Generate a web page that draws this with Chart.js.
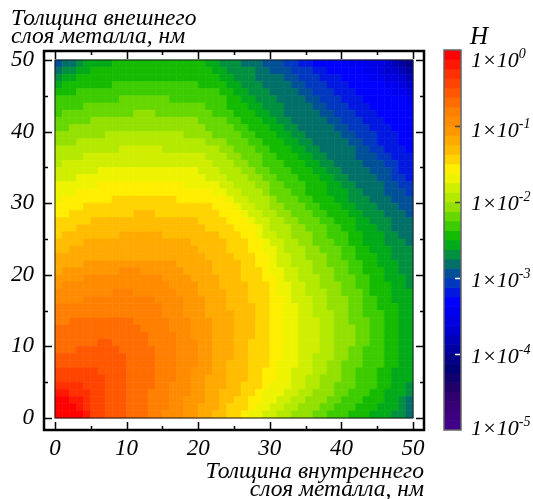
<!DOCTYPE html>
<html>
<head>
<meta charset="utf-8">
<style>
  html, body { margin:0; padding:0; background:#fff; }
  #wrap { position:relative; width:533px; height:499px; overflow:hidden; }
  #wrap div { position:absolute; top:0; height:499px; }
</style>
<script src="https://cdn.jsdelivr.net/npm/chart.js@4"></script>
</head>
<body>
<div id="wrap">
  <div style="left:0;width:430px"><canvas id="mapChart"></canvas></div>
  <div style="left:430px;width:103px"><canvas id="barChart"></canvas></div>
</div>
<script>
// Axis
const axisTicks = [0, 10, 20, 30, 40, 50]
const axisMinorTicks = [5, 15, 25, 35, 45]
const xTitle = ['Толщина внутреннего', 'слоя металла, нм']
const yTitle = ['Толщина внешнего', 'слоя металла, нм']

// Colour scale: band 0 is the top of the bar, 8 bands per decade of H
const bandColors = [
  '#ff0000','#ff1800','#ff3000','#ff4400','#ff5800','#ff6c00','#ff8000','#ff8c00',
  '#ff9800','#ffaa00','#ffbc00','#ffd400','#ffee00','#eef400','#d0ee00','#b4ea00',
  '#94e000','#66d800','#3ccc00','#14bb00','#00aa18','#009040','#007068','#005098',
  '#0038c0','#0018e0','#0000ff','#0000f0','#0000e0','#0000d0','#0000b8','#0000a0',
  '#000088','#000078','#100070','#200068','#300070','#380078','#3c0080','#400088'
]
const bandEdges = [
  0,-0.125,-0.25,-0.375,-0.5,-0.625,-0.75,-0.875,-1,-1.125,-1.25,-1.375,-1.5,-1.625,
  -1.75,-1.875,-2,-2.125,-2.25,-2.375,-2.5,-2.625,-2.75,-2.875,-3,-3.125,-3.25,-3.375,
  -3.5,-3.625,-3.75,-3.875,-4,-4.125,-4.25,-4.375,-4.5,-4.625,-4.75,-4.875,-5
]
const barExponents = [0, -1, -2, -3, -4, -5]
const barTickColors = ['#444', '#444', '#444', '#fff', '#fff']
const barLabelDrop = [16.5, 10.5, 8, 9, 9, 5]

// Cell centres, nm
const xCells = [0.5,1.5,2.5,3.5,4.5,5.5,6.5,7.5,8.5,9.5,10.5,11.5,12.5,13.5,14.5,15.5,16.5,17.5,18.5,19.5,20.5,21.5,22.5,23.5,24.5,25.5,26.5,27.5,28.5,29.5,30.5,31.5,32.5,33.5,34.5,35.5,36.5,37.5,38.5,39.5,40.5,41.5,42.5,43.5,44.5,45.5,46.5,47.5,48.5,49.5]
const yCells = [49.5,48.5,47.5,46.5,45.5,44.5,43.5,42.5,41.5,40.5,39.5,38.5,37.5,36.5,35.5,34.5,33.5,32.5,31.5,30.5,29.5,28.5,27.5,26.5,25.5,24.5,23.5,22.5,21.5,20.5,19.5,18.5,17.5,16.5,15.5,14.5,13.5,12.5,11.5,10.5,9.5,8.5,7.5,6.5,5.5,4.5,3.5,2.5,1.5,0.5]

// H band for each cell, top row first
const hBands = [
  [23,22,22,21,20,20,20,20,19,19,19,19,19,19,19,19,19,19,19,19,19,20,20,21,21,21,22,22,22,23,23,23,24,24,25,25,26,26,26,26,26,27,27,27,28,28,29,30,31,32],
  [22,21,21,20,20,19,19,19,19,19,19,19,19,19,19,19,19,19,19,19,19,19,20,20,21,21,21,21,22,22,23,23,23,24,24,24,25,25,26,26,26,26,26,27,27,28,29,29,30,31],
  [21,20,20,19,19,19,19,19,19,19,19,19,19,19,19,19,19,19,19,19,19,19,19,20,20,21,21,21,22,22,22,22,23,23,24,24,24,25,25,25,26,26,26,26,27,27,28,28,29,30],
  [20,19,19,19,19,19,19,19,18,18,18,18,18,18,18,18,18,18,18,18,19,19,19,19,20,20,21,21,21,22,22,22,22,23,23,24,24,24,25,25,25,26,26,26,26,26,27,27,28,29],
  [19,19,19,18,18,18,18,18,18,18,18,18,18,18,18,18,18,18,18,18,18,18,18,19,19,20,20,21,21,21,22,22,22,22,23,23,24,24,24,25,25,25,26,26,26,26,26,27,27,28],
  [18,18,18,18,18,18,18,18,18,17,17,17,17,17,17,17,18,18,18,18,18,18,18,18,19,19,20,20,21,21,21,22,22,22,22,23,23,24,24,24,25,25,25,26,26,26,26,26,26,27],
  [18,18,18,18,17,17,17,17,17,17,17,17,17,17,17,17,17,17,17,17,17,18,18,18,19,19,19,20,20,21,21,21,22,22,22,22,23,23,24,24,24,25,25,25,26,26,26,26,26,26],
  [18,17,17,17,17,17,17,17,17,17,17,16,16,16,17,17,17,17,17,17,17,17,18,18,18,19,19,19,20,20,21,21,22,22,22,22,22,23,23,24,24,24,25,25,25,26,26,26,26,26],
  [17,17,17,17,17,16,16,16,16,16,16,16,16,16,16,16,16,16,16,16,17,17,17,17,18,18,19,19,19,20,20,21,21,22,22,22,22,22,23,23,24,24,24,25,25,25,26,26,26,26],
  [17,17,16,16,16,16,16,16,16,16,16,16,16,16,16,16,16,16,16,16,16,17,17,17,17,18,18,19,19,19,20,20,21,21,22,22,22,22,22,23,23,24,24,24,25,25,25,26,26,26],
  [16,16,16,16,16,16,16,15,15,15,15,15,15,15,15,15,15,15,16,16,16,16,17,17,17,17,18,18,19,19,19,20,20,21,21,22,22,22,22,22,23,23,24,24,24,25,25,25,26,26],
  [16,16,16,15,15,15,15,15,15,15,15,15,15,15,15,15,15,15,15,15,15,16,16,16,17,17,17,18,18,19,19,19,20,20,21,21,22,22,22,22,22,23,23,24,24,25,25,25,26,26],
  [15,15,15,15,15,15,15,15,15,14,14,14,14,14,14,15,15,15,15,15,15,15,15,16,16,17,17,17,18,18,19,19,19,20,20,21,21,22,22,22,22,22,23,23,24,24,25,25,25,26],
  [15,15,15,15,14,14,14,14,14,14,14,14,14,14,14,14,14,14,14,14,14,15,15,15,16,16,17,17,17,18,18,19,19,19,20,20,21,21,22,22,22,22,23,23,23,24,24,25,25,25],
  [15,14,14,14,14,14,14,14,14,14,14,14,14,14,14,14,14,14,14,14,14,14,15,15,15,16,16,17,17,18,18,18,19,19,19,20,20,21,21,22,22,22,22,23,23,23,24,24,25,25],
  [14,14,14,14,14,14,13,13,13,13,13,13,13,13,13,13,13,13,13,13,14,14,14,15,15,15,16,16,17,17,18,18,18,19,19,19,20,20,21,21,22,22,22,22,23,23,23,24,25,25],
  [14,14,14,13,13,13,13,13,13,13,13,13,13,13,13,13,13,13,13,13,13,14,14,14,15,15,15,16,16,17,17,18,18,18,19,19,19,20,20,21,21,22,22,22,22,23,23,24,24,25],
  [13,13,13,13,13,13,12,12,12,12,12,12,12,12,12,12,12,12,13,13,13,13,13,14,14,15,15,15,16,16,17,17,18,18,18,19,19,19,20,20,21,21,22,22,22,22,23,23,24,24],
  [13,13,13,12,12,12,12,12,12,12,12,12,12,12,12,12,12,12,12,12,12,12,13,13,14,14,15,15,15,16,17,17,17,18,18,19,19,19,20,20,20,21,21,22,22,22,23,23,23,24],
  [13,12,12,12,12,12,12,12,11,11,11,11,11,11,11,11,11,12,12,12,12,12,12,12,13,14,14,15,15,15,16,17,17,17,18,18,19,19,19,20,20,21,21,21,22,22,22,23,23,23],
  [12,12,12,12,11,11,11,11,11,11,11,11,11,11,11,11,11,11,11,11,11,11,12,12,12,13,14,14,15,15,16,16,17,17,17,18,18,19,19,19,20,20,21,21,21,22,22,22,23,23],
  [12,12,11,11,11,11,11,11,11,11,11,10,10,10,11,11,11,11,11,11,11,11,11,12,12,12,13,14,14,15,15,16,16,17,17,17,18,18,19,19,19,20,20,21,21,21,22,22,22,23],
  [11,11,11,11,11,10,10,10,10,10,10,10,10,10,10,10,10,10,10,10,11,11,11,11,12,12,12,13,14,14,15,15,16,16,17,17,17,18,18,19,19,19,20,20,21,21,21,22,22,22],
  [11,11,11,10,10,10,10,10,10,10,10,10,10,10,10,10,10,10,10,10,10,11,11,11,11,12,12,12,13,14,15,15,15,16,16,17,17,17,18,18,19,19,20,20,20,21,21,22,22,22],
  [11,10,10,10,10,10,10,10,10,9,9,9,9,9,9,10,10,10,10,10,10,10,10,11,11,11,12,12,13,14,14,15,15,16,16,16,17,17,18,18,18,19,19,20,20,20,21,21,22,22],
  [10,10,10,10,9,9,9,9,9,9,9,9,9,9,9,9,9,9,9,10,10,10,10,10,11,11,11,12,12,13,14,14,15,15,16,16,17,17,17,18,18,19,19,20,20,20,21,21,21,22],
  [10,10,9,9,9,9,9,9,9,9,9,9,9,9,9,9,9,9,9,9,10,10,10,10,11,11,11,12,12,13,13,14,15,15,15,16,16,17,17,17,18,18,19,19,20,20,20,21,21,21],
  [9,9,9,9,9,9,9,9,9,9,9,9,9,9,9,9,9,9,9,9,9,10,10,10,10,11,11,11,12,12,13,14,14,15,15,16,16,16,17,17,18,18,19,19,19,20,20,21,21,21],
  [9,9,9,9,8,8,8,8,8,8,8,8,8,8,8,8,8,9,9,9,9,9,10,10,10,10,11,11,12,12,13,14,14,15,15,15,16,16,17,17,17,18,18,19,19,20,20,20,21,21],
  [9,8,8,8,8,8,8,8,8,7,7,7,8,8,8,8,8,8,9,9,9,9,10,10,10,10,11,11,11,12,13,13,14,14,15,15,16,16,16,17,17,18,18,19,19,19,20,20,21,21],
  [8,8,8,8,7,7,7,7,7,7,7,7,7,7,7,8,8,8,8,9,9,9,9,10,10,10,11,11,11,12,12,13,14,14,15,15,15,16,16,17,17,17,18,18,19,19,20,20,20,21],
  [8,7,7,7,7,7,7,7,7,7,7,7,7,7,7,7,8,8,8,8,9,9,9,10,10,10,10,11,11,11,12,13,13,14,14,15,15,16,16,16,17,17,18,18,19,19,19,20,20,21],
  [7,7,7,7,7,7,7,7,6,6,6,7,7,7,7,7,7,8,8,8,9,9,9,9,10,10,10,11,11,11,12,13,13,14,14,15,15,15,16,16,17,17,17,18,19,19,19,20,20,20],
  [7,7,7,7,6,6,6,6,6,6,6,6,6,6,7,7,7,7,8,8,8,9,9,9,10,10,10,11,11,11,12,12,13,14,14,14,15,15,16,16,16,17,17,18,18,19,19,20,20,20],
  [6,6,6,6,6,6,6,6,6,6,6,6,6,6,6,7,7,7,8,8,8,9,9,9,10,10,10,10,11,11,12,12,13,13,14,14,15,15,16,16,16,17,17,18,18,19,19,19,20,20],
  [6,6,6,6,6,6,6,6,6,6,6,6,6,6,6,7,7,7,8,8,8,9,9,9,9,10,10,10,11,11,12,12,13,13,14,14,15,15,15,16,16,17,17,18,18,18,19,19,20,20],
  [6,6,5,5,5,5,5,5,5,5,5,6,6,6,6,6,7,7,7,8,8,8,9,9,9,10,10,10,11,11,12,12,13,13,14,14,14,15,15,16,16,17,17,17,18,18,19,19,20,20],
  [5,5,5,5,5,5,5,5,5,5,5,5,6,6,6,6,7,7,7,8,8,8,9,9,9,10,10,10,11,11,12,12,13,13,14,14,14,15,15,16,16,16,17,17,18,18,19,19,20,20],
  [5,5,5,5,5,5,5,5,5,5,5,5,5,6,6,6,6,7,7,8,8,8,9,9,9,10,10,10,11,11,12,12,13,13,14,14,14,15,15,16,16,16,17,17,18,18,19,19,20,20],
  [5,5,5,5,5,5,4,4,5,5,5,5,5,6,6,6,6,7,7,7,8,8,9,9,9,10,10,11,11,11,12,12,13,13,14,14,14,15,15,16,16,16,17,17,18,18,19,19,20,20],
  [5,5,5,4,4,4,4,4,4,5,5,5,5,5,6,6,6,7,7,7,8,8,9,9,9,10,10,11,11,11,12,12,13,13,14,14,14,15,15,16,16,17,17,18,18,18,19,19,20,20],
  [4,4,4,4,4,4,4,4,4,4,5,5,5,5,6,6,6,7,7,7,8,8,9,9,9,10,10,11,11,11,12,12,13,13,14,14,15,15,15,16,16,17,17,18,18,18,19,19,20,20],
  [4,4,4,4,4,4,4,4,4,4,5,5,5,5,6,6,6,7,7,7,8,8,9,9,10,10,10,11,11,11,12,13,13,13,14,14,15,15,16,16,17,17,17,18,18,18,19,19,20,20],
  [3,3,3,3,3,3,4,4,4,4,5,5,5,5,6,6,6,7,7,8,8,8,9,9,10,10,10,11,11,12,12,13,13,14,14,14,15,15,16,16,17,17,18,18,18,19,19,20,20,20],
  [3,3,3,3,3,3,3,4,4,4,5,5,5,5,6,6,6,7,7,8,8,9,9,9,10,10,10,11,11,12,12,13,13,14,14,15,15,16,16,16,17,17,18,18,18,19,19,20,20,20],
  [2,2,2,2,3,3,3,4,4,4,5,5,5,5,6,6,7,7,7,8,8,9,9,9,10,10,11,11,11,12,13,13,13,14,14,15,15,16,16,17,17,17,18,18,18,19,19,20,20,21],
  [1,1,2,2,2,3,3,4,4,4,5,5,5,6,6,6,7,7,7,8,8,9,9,10,10,10,11,11,12,13,13,13,14,14,15,15,16,16,16,17,17,18,18,18,19,19,20,20,20,21],
  [0,0,1,1,2,3,3,4,4,4,5,5,5,6,6,6,7,7,8,8,8,9,9,10,10,11,11,12,12,13,13,14,14,15,15,16,16,16,17,17,18,18,18,19,19,19,20,20,21,22],
  [0,0,0,1,2,3,3,4,4,4,5,5,5,6,6,6,7,7,8,8,9,9,9,10,11,11,11,12,13,13,14,14,15,15,16,16,16,17,17,18,18,18,19,19,19,20,20,20,21,22],
  [0,0,0,0,1,3,3,4,4,4,5,5,5,6,6,7,7,7,8,8,9,9,10,10,11,11,12,13,13,14,14,15,15,16,16,16,17,17,18,18,18,19,19,19,20,20,20,21,21,22]
]

const serif = 'Liberation Serif'

// thin box round the map, then the heavy frame with its inward ticks on all four sides
const framePlugin = {
  id: 'frame',
  afterDatasetsDraw(chart) {
    const { ctx, chartArea: a, scales: { x, y } } = chart
    ctx.save()
    ctx.strokeStyle = '#1a1a1a'
    ctx.lineWidth = 1
    ctx.strokeRect(x.getPixelForValue(0), y.getPixelForValue(50), x.getPixelForValue(50) - x.getPixelForValue(0), y.getPixelForValue(0) - y.getPixelForValue(50))
    ctx.strokeStyle = '#000'
    ctx.lineWidth = 1.5
    const mark = (v, len) => {
      const px = Math.round(x.getPixelForValue(v)) + 0.5
      const py = Math.round(y.getPixelForValue(v)) + 0.5
      ctx.beginPath()
      ctx.moveTo(px, a.top); ctx.lineTo(px, a.top + len)
      ctx.moveTo(px, a.bottom); ctx.lineTo(px, a.bottom - len)
      ctx.moveTo(a.left, py); ctx.lineTo(a.left + len, py)
      ctx.moveTo(a.right, py); ctx.lineTo(a.right - len, py)
      ctx.stroke()
    }
    axisTicks.forEach(v => mark(v, 8))
    axisMinorTicks.forEach(v => mark(v, 4))
    ctx.lineWidth = 2.5
    ctx.strokeRect(a.left, a.top, a.right - a.left, a.bottom - a.top)
    ctx.restore()
  }
}

// colour bar outline, tick marks and the 1×10^n labels
const barLabelPlugin = {
  id: 'barLabels',
  afterDatasetsDraw(chart) {
    const { ctx, chartArea: a, scales: { y } } = chart
    ctx.save()
    ctx.strokeStyle = '#666'
    ctx.lineWidth = 1.5
    ctx.strokeRect(a.left, a.top, a.right - a.left, a.bottom - a.top)
    barTickColors.forEach((c, i) => {
      if (i === 0) return
      const py = Math.round(y.getPixelForValue(barExponents[i])) + 0.5
      ctx.strokeStyle = c
      ctx.beginPath(); ctx.moveTo(a.right - 6, py); ctx.lineTo(a.right - 1, py); ctx.stroke()
    })
    ctx.fillStyle = '#000'
    ctx.textBaseline = 'alphabetic'
    ctx.font = 'italic 25px "' + serif + '"'
    ctx.fillText('H', a.right + 9, 44)
    barExponents.forEach((e, i) => {
      const py = y.getPixelForValue(e) + barLabelDrop[i]
      ctx.font = 'italic 22px "' + serif + '"'
      ctx.fillText('1×10', a.right + 10, py)
      const w = ctx.measureText('1×10').width
      ctx.font = 'italic 14px "' + serif + '"'
      ctx.fillText(String(e), a.right + 10 + w, py - 9)
    })
    ctx.restore()
  }
}

function initMapChart() {
  const points = []
  const colors = []
  yCells.forEach((yv, r) => {
    xCells.forEach((xv, c) => {
      points.push({ x: xv, y: yv })
      colors.push(bandColors[hBands[r][c]])
    })
  })
  const tickFont = { family: serif, style: 'italic', size: 23 }
  new Chart(document.getElementById('mapChart'), {
    type: 'scatter',
    data: {
      datasets: [{
        data: points,
        pointStyle: 'rect',
        pointRadius: 5.1,
        pointHoverRadius: 5.1,
        pointBorderWidth: 0.6,
        pointBorderColor: colors,
        pointBackgroundColor: colors
      }]
    },
    options: {
      responsive: false,
      animation: false,
      layout: { padding: { left: 11, top: 10, right: 6, bottom: 0 } },
      plugins: {
        legend: { display: false },
        tooltip: { enabled: false },
        title: {
          display: true,
          text: yTitle,
          align: 'start',
          color: '#000',
          padding: { top: 0, bottom: 5 },
          font: { family: serif, style: 'italic', weight: 'normal', size: 23.5, lineHeight: 0.766 }
        }
      },
      scales: {
        x: {
          type: 'linear',
          min: -1.536,
          max: 51.536,
          grid: { display: false, drawTicks: false },
          border: { display: false },
          afterBuildTicks: s => { s.ticks = axisTicks.map(value => ({ value })) },
          afterFit: s => { s.height = 69; s.paddingLeft = 0; s.paddingRight = 0 },
          ticks: { font: tickFont, color: '#000', padding: 5, maxRotation: 0, autoSkip: false },
          title: {
            display: true,
            text: xTitle,
            align: 'end',
            color: '#000',
            padding: 0,
            font: { family: serif, style: 'italic', size: 23.5, lineHeight: 0.766 }
          }
        },
        y: {
          type: 'linear',
          min: -1.676,
          max: 51.257,
          grid: { display: false, drawTicks: false },
          border: { display: false },
          afterBuildTicks: s => { s.ticks = axisTicks.map(value => ({ value })) },
          afterFit: s => { s.width = 33; s.paddingTop = 0; s.paddingBottom = 0 },
          ticks: { font: tickFont, color: '#000', padding: 10, autoSkip: false }
        }
      }
    },
    plugins: [framePlugin]
  })
}

function initBarChart() {
  const datasets = bandColors.map((c, i) => ({
    data: [[bandEdges[i + 1], bandEdges[i]]],
    backgroundColor: c,
    barPercentage: 1,
    categoryPercentage: 1,
    grouped: false
  }))
  new Chart(document.getElementById('barChart'), {
    type: 'bar',
    data: { labels: ['H'], datasets },
    options: {
      responsive: false,
      animation: false,
      layout: { padding: { left: 14, right: 72, top: 50, bottom: 69 } },
      plugins: { legend: { display: false }, tooltip: { enabled: false } },
      scales: {
        x: { display: false },
        y: { display: false, min: -5, max: 0 }
      }
    },
    plugins: [barLabelPlugin]
  })
}

const mapCanvas = document.getElementById('mapChart')
mapCanvas.width = 430; mapCanvas.height = 499
const barCanvas = document.getElementById('barChart')
barCanvas.width = 103; barCanvas.height = 499
initMapChart()
initBarChart()
</script>
</body>
</html>
